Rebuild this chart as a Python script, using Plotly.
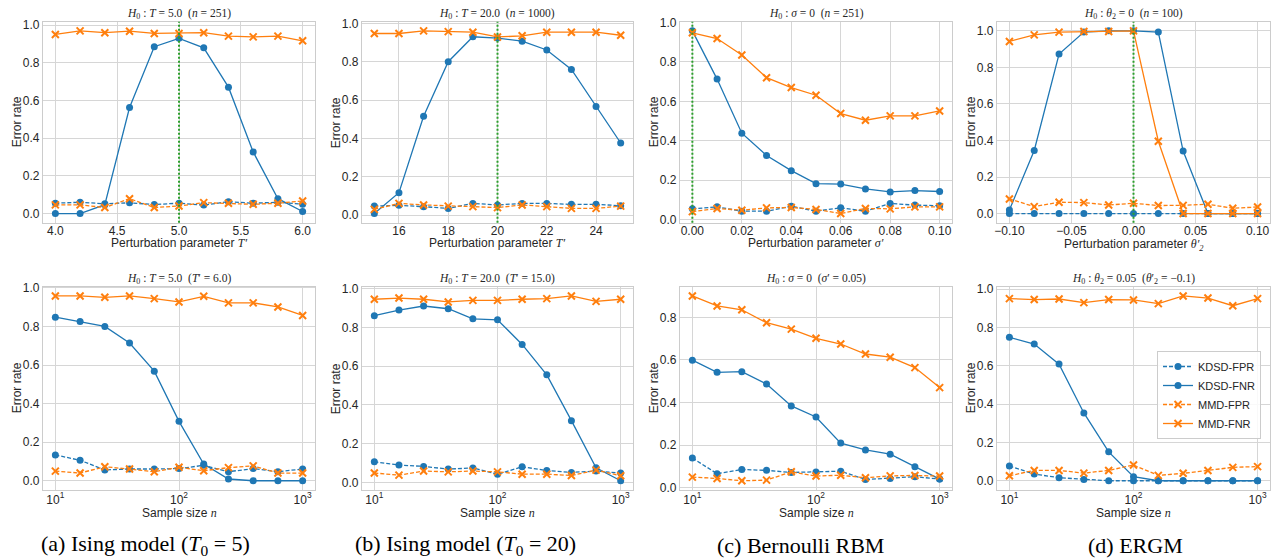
import math
import plotly.graph_objects as go
from plotly.subplots import make_subplots

BLUE = '#1f77b4'
ORANGE = '#ff7f0e'
GREEN = '#2ca02c'
TXT = '#262626'
GRID = '#d6d6d6'

# ---------------- data ----------------
series_names = ['KDSD-FPR', 'KDSD-FNR', 'MMD-FPR', 'MMD-FNR']

# top row x values (perturbation parameters)
pert_a = [4.0, 4.2, 4.4, 4.6, 4.8, 5.0, 5.2, 5.4, 5.6, 5.8, 6.0]
pert_b = [15, 16, 17, 18, 19, 20, 21, 22, 23, 24, 25]
pert_c = [0.0, 0.01, 0.02, 0.03, 0.04, 0.05, 0.06, 0.07, 0.08, 0.09, 0.10]
pert_d = [-0.10, -0.08, -0.06, -0.04, -0.02, 0.0, 0.02, 0.04, 0.06, 0.08, 0.10]
null_values = [5.0, 20.0, 0.0, 0.0]

# bottom row x values (sample size)
sample_n = [10, 15.85, 25.12, 39.81, 63.1, 100, 158.5, 251.2, 398.1, 631.0, 1000]

# top row values
a_kfpr = [0.055, 0.060, 0.052, 0.057, 0.048, 0.055, 0.045, 0.063, 0.055, 0.060, 0.050]
a_kfnr = [0.0, 0.0, 0.047, 0.563, 0.886, 0.930, 0.880, 0.671, 0.327, 0.079, 0.011]
a_mfpr = [0.046, 0.046, 0.032, 0.079, 0.032, 0.040, 0.058, 0.055, 0.049, 0.055, 0.067]
a_mfnr = [0.951, 0.970, 0.960, 0.968, 0.956, 0.956, 0.960, 0.942, 0.938, 0.942, 0.917]

b_kfpr = [0.048, 0.052, 0.045, 0.036, 0.062, 0.054, 0.062, 0.062, 0.057, 0.057, 0.050]
b_kfnr = [0.009, 0.118, 0.516, 0.801, 0.931, 0.924, 0.908, 0.862, 0.761, 0.567, 0.377]
b_mfpr = [0.031, 0.062, 0.054, 0.048, 0.045, 0.040, 0.054, 0.045, 0.036, 0.036, 0.048]
b_mfnr = [0.948, 0.948, 0.962, 0.958, 0.955, 0.930, 0.936, 0.955, 0.955, 0.955, 0.939]

c_kfpr = [0.054, 0.064, 0.042, 0.042, 0.067, 0.042, 0.059, 0.042, 0.081, 0.073, 0.070]
c_kfnr = [0.958, 0.713, 0.438, 0.325, 0.248, 0.182, 0.180, 0.155, 0.140, 0.147, 0.142]
c_mfpr = [0.040, 0.056, 0.047, 0.059, 0.061, 0.051, 0.030, 0.056, 0.054, 0.064, 0.064]
c_mfnr = [0.948, 0.919, 0.835, 0.720, 0.670, 0.631, 0.538, 0.504, 0.526, 0.526, 0.551]

d_kfpr = [0.0, 0.0, 0.0, 0.0, 0.0, 0.0, 0.0, 0.0, 0.0, 0.0, 0.0]
d_kfnr = [0.020, 0.345, 0.873, 0.993, 1.0, 1.0, 0.993, 0.342, 0.0, 0.0, 0.0]
d_mfpr = [0.080, 0.038, 0.062, 0.060, 0.047, 0.056, 0.044, 0.045, 0.051, 0.029, 0.036]
d_mfnr = [0.942, 0.978, 0.993, 0.996, 0.996, 1.0, 0.396, 0.0, 0.0, 0.0, 0.0]

# bottom row values
e_kfpr = [0.134, 0.106, 0.056, 0.061, 0.061, 0.063, 0.080, 0.047, 0.063, 0.047, 0.061]
e_kfnr = [0.848, 0.826, 0.800, 0.714, 0.568, 0.308, 0.087, 0.009, 0.0, 0.0, 0.0]
e_mfpr = [0.050, 0.040, 0.073, 0.061, 0.047, 0.070, 0.052, 0.068, 0.077, 0.040, 0.040]
e_mfnr = [0.958, 0.958, 0.951, 0.958, 0.944, 0.927, 0.956, 0.922, 0.922, 0.901, 0.857]

f_kfpr = [0.107, 0.090, 0.083, 0.069, 0.075, 0.042, 0.081, 0.062, 0.052, 0.059, 0.049]
f_kfnr = [0.860, 0.889, 0.910, 0.896, 0.844, 0.839, 0.712, 0.555, 0.319, 0.076, 0.009]
f_mfpr = [0.049, 0.038, 0.059, 0.055, 0.059, 0.055, 0.043, 0.043, 0.036, 0.064, 0.035]
f_mfnr = [0.945, 0.951, 0.945, 0.931, 0.939, 0.939, 0.945, 0.948, 0.962, 0.934, 0.945]

g_kfpr = [0.139, 0.065, 0.085, 0.081, 0.071, 0.073, 0.077, 0.038, 0.043, 0.051, 0.040]
g_kfnr = [0.599, 0.542, 0.545, 0.487, 0.384, 0.332, 0.209, 0.177, 0.157, 0.098, 0.040]
g_mfpr = [0.049, 0.043, 0.032, 0.035, 0.074, 0.054, 0.058, 0.046, 0.055, 0.057, 0.054]
g_mfnr = [0.901, 0.854, 0.836, 0.775, 0.745, 0.702, 0.675, 0.628, 0.613, 0.564, 0.470]

h_kfpr = [0.077, 0.035, 0.016, 0.007, 0.0, 0.0, 0.0, 0.0, 0.0, 0.0, 0.0]
h_kfnr = [0.749, 0.714, 0.609, 0.354, 0.151, 0.021, 0.0, 0.0, 0.0, 0.0, 0.0]
h_mfpr = [0.026, 0.054, 0.054, 0.040, 0.054, 0.082, 0.028, 0.039, 0.054, 0.070, 0.074]
h_mfnr = [0.951, 0.946, 0.949, 0.930, 0.946, 0.944, 0.925, 0.965, 0.954, 0.914, 0.951]

top_titles = [
    '<i>H</i><sub>0</sub> : <i>T</i> = 5.0\u00a0\u00a0(<i>n</i> = 251)',
    '<i>H</i><sub>0</sub> : <i>T</i> = 20.0\u00a0\u00a0(<i>n</i> = 1000)',
    '<i>H</i><sub>0</sub> : <i>σ</i> = 0\u00a0\u00a0(<i>n</i> = 251)',
    '<i>H</i><sub>0</sub> : <i>θ</i><sub>2</sub> = 0\u00a0\u00a0(<i>n</i> = 100)',
]
bottom_titles = [
    '<i>H</i><sub>0</sub> : <i>T</i> = 5.0\u00a0\u00a0(<i>T</i>′ = 6.0)',
    '<i>H</i><sub>0</sub> : <i>T</i> = 20.0\u00a0\u00a0(<i>T</i>′ = 15.0)',
    '<i>H</i><sub>0</sub> : <i>σ</i> = 0\u00a0\u00a0(<i>σ</i>′ = 0.05)',
    '<i>H</i><sub>0</sub> : <i>θ</i><sub>2</sub> = 0.05\u00a0\u00a0(<i>θ</i>′<sub>2</sub> = −0.1)',
]
MATH = 'font-family:Liberation Serif;font-style:italic'
top_xlabels = [
    'Perturbation parameter <span style="%s">T′</span>' % MATH,
    'Perturbation parameter <span style="%s">T′</span>' % MATH,
    'Perturbation parameter <span style="%s">σ′</span>' % MATH,
    'Perturbation parameter <span style="%s">θ′<sub>2</sub></span>' % MATH,
]
top_xlabel_shift = [-20, -20, -20, -22]
bottom_xlabel = 'Sample size <span style="%s">n</span>' % MATH
captions = [
    '(a) Ising model (<i>T</i><sub>0</sub> = 5)',
    '(b) Ising model (<i>T</i><sub>0</sub> = 20)',
    '(c) Bernoulli RBM',
    '(d) ERGM',
]
caption_px = [145, 465, 800, 1135]
top_dticks = [0.5, 2, 0.02, 0.05]
top_fmts = ['.1f', 'd', '.2f', '.2f']
log_ticks = [10, 100, 1000]
log_ticktext = ['10<sup>1</sup>', '10<sup>2</sup>', '10<sup>3</sup>']

top_x = [pert_a, pert_b, pert_c, pert_d]
top_vals = [[a_kfpr, a_kfnr, a_mfpr, a_mfnr], [b_kfpr, b_kfnr, b_mfpr, b_mfnr],
            [c_kfpr, c_kfnr, c_mfpr, c_mfnr], [d_kfpr, d_kfnr, d_mfpr, d_mfnr]]
bot_vals = [[e_kfpr, e_kfnr, e_mfpr, e_mfnr], [f_kfpr, f_kfnr, f_mfpr, f_mfnr],
            [g_kfpr, g_kfnr, g_mfpr, g_mfnr], [h_kfpr, h_kfnr, h_mfpr, h_mfnr]]

# ---------------- layout geometry ----------------
W, H = 1274, 559
col_px = [(43, 315), (362, 633), (680, 952), (997, 1270)]
row_px = [(21.7, 222.7), (286.7, 490.0)]


def xdom(c):
    return [col_px[c][0] / W, col_px[c][1] / W]


def ydom(r):
    return [1 - row_px[r][1] / H, 1 - row_px[r][0] / H]


def pad_range(vals, frac=0.05):
    lo, hi = min(vals), max(vals)
    d = (hi - lo) * frac
    return [lo - d, hi + d]


styles = [
    dict(dash='4px,2px', symbol='circle', color=BLUE),
    dict(dash='solid', symbol='circle', color=BLUE),
    dict(dash='4px,2px', symbol='x-thin', color=ORANGE),
    dict(dash='solid', symbol='x-thin', color=ORANGE),
]

fig = make_subplots(rows=2, cols=4)


def add_series(r, c, xs, vals, show_legend):
    for k, (name, ys) in enumerate(zip(series_names, vals)):
        st = styles[k]
        if st['symbol'] == 'circle':
            marker = dict(symbol='circle', size=7, color=st['color'])
        else:
            marker = dict(symbol='x-thin', size=7, color=st['color'],
                          line=dict(color=st['color'], width=2))
        fig.add_trace(go.Scatter(
            x=xs, y=ys, name=name, mode='lines+markers',
            line=dict(color=st['color'], width=1.3, dash=st['dash']),
            marker=marker, showlegend=show_legend, legendgroup=name,
        ), row=r + 1, col=c + 1)


axis_common = dict(
    showgrid=True, gridcolor=GRID, gridwidth=1.2, zeroline=False,
    showline=True, linecolor='#cccccc', linewidth=1.2, mirror=True,
    ticks='', automargin=False,
    tickfont=dict(family='Liberation Sans', size=12, color=TXT),
)

annotations = []
for c in range(4):
    # top row
    add_series(0, c, top_x[c], top_vals[c], False)
    fig.add_vline(x=null_values[c], row=1, col=c + 1,
                  line=dict(color=GREEN, width=2, dash='2px,2px'))
    allv = [v for s in top_vals[c] for v in s]
    fig.update_xaxes(domain=xdom(c), range=pad_range(top_x[c]), dtick=top_dticks[c],
                     tickformat=top_fmts[c], ticklabelstandoff=-3,
                     row=1, col=c + 1, **axis_common)
    fig.update_yaxes(domain=ydom(0), range=pad_range(allv), dtick=0.2, tickformat='.1f',
                     row=1, col=c + 1, **axis_common)
    # bottom row
    add_series(1, c, sample_n, bot_vals[c], c == 3)
    allv = [v for s in bot_vals[c] for v in s]
    logs = [math.log10(v) for v in sample_n]
    fig.update_xaxes(domain=xdom(c), type='log', range=pad_range(logs),
                     tickvals=log_ticks, ticktext=log_ticktext, ticklabelstandoff=-2,
                     row=2, col=c + 1, **axis_common)
    fig.update_yaxes(domain=ydom(1), range=pad_range(allv), dtick=0.2, tickformat='.1f',
                     row=2, col=c + 1, **axis_common)

    xc = (col_px[c][0] + col_px[c][1]) / 2 / W
    for r, titles in ((0, top_titles), (1, bottom_titles)):
        annotations.append(dict(
            text=titles[c], x=xc, y=ydom(r)[1], xref='paper', yref='paper',
            xanchor='center', yanchor='middle', yshift=7.5, showarrow=False,
            font=dict(family='Liberation Serif', size=11.5, color=TXT)))
        annotations.append(dict(
            text='Error rate', x=xdom(c)[0], y=sum(ydom(r)) / 2, xref='paper', yref='paper',
            xanchor='center', yanchor='middle', xshift=-26, textangle=-90, showarrow=False,
            font=dict(family='Liberation Sans', size=12, color=TXT)))
    annotations.append(dict(
        text=top_xlabels[c], x=xc, y=ydom(0)[0], xref='paper', yref='paper',
        xanchor='center', yanchor='middle', yshift=top_xlabel_shift[c], showarrow=False,
        font=dict(family='Liberation Sans', size=12, color=TXT)))
    annotations.append(dict(
        text=bottom_xlabel, x=xc, y=ydom(1)[0], xref='paper', yref='paper',
        xanchor='center', yanchor='middle', yshift=-23, showarrow=False,
        font=dict(family='Liberation Sans', size=12, color=TXT)))
    annotations.append(dict(
        text=captions[c], x=caption_px[c] / W, y=1 - 545 / H, xref='paper', yref='paper',
        xanchor='center', yanchor='middle', showarrow=False,
        font=dict(family='Liberation Serif', size=22, color='#000000')))

fig.update_layout(
    width=W, height=H, margin=dict(l=0, r=0, t=0, b=0),
    paper_bgcolor='white', plot_bgcolor='white',
    font=dict(family='Liberation Sans', size=12, color=TXT),
    annotations=annotations,
    legend=dict(x=1157 / W, y=1 - 351 / H, xanchor='left', yanchor='top',
                bgcolor='rgba(255,255,255,0.85)', bordercolor='#cccccc', borderwidth=1,
                font=dict(family='Liberation Sans', size=11, color=TXT),
                itemwidth=30, tracegroupgap=0),
)

fig.write_html('out.html', config={'displayModeBar': False},
               post_script="document.body.style.margin='0';document.body.style.overflow='hidden';")
